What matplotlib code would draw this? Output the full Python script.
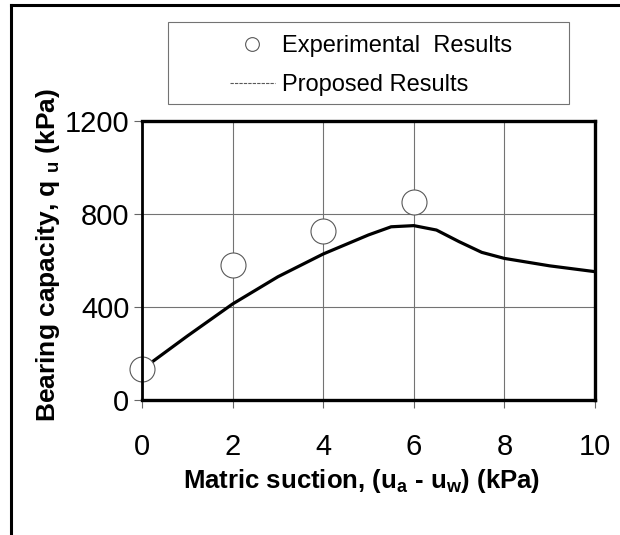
import matplotlib.pyplot as plt
from matplotlib.lines import Line2D
from matplotlib.patches import Rectangle

plt.rcParams['font.family'] = ['Liberation Sans', 'DejaVu Sans']

# experimental points
exp_suction = [0, 2, 4, 6]
exp_capacity = [132, 580, 728, 853]

# proposed (model) curve
model_suction = [0, 1, 2, 3, 4, 5, 5.5, 6, 6.5, 7, 7.5, 8, 9, 10]
model_capacity = [132, 275, 413, 530, 628, 710, 745, 750, 731, 681, 635, 609, 577, 552]

x_ticks = [0, 2, 4, 6, 8, 10]
y_ticks = [0, 400, 800, 1200]

fig = plt.figure(figsize=(6.2, 5.35), dpi=100)
ax = fig.add_axes([142 / 620, 135 / 535, 453 / 620, 279 / 535])

ax.plot(model_suction, model_capacity, color="black", linewidth=2.3, zorder=3)
pts, = ax.plot(exp_suction, exp_capacity, linestyle="none", marker="o", markersize=18,
               markerfacecolor="white", markeredgecolor="0.35", markeredgewidth=0.8,
               clip_on=False, zorder=4)

ax.set_xlim(0, 10)
ax.set_ylim(0, 1200)
ax.set_xticks(x_ticks)
ax.set_yticks(y_ticks)
ax.tick_params(axis="both", direction="out", length=6, width=0.8, color="0.4", labelsize=21)
ax.tick_params(axis="x", pad=18)
ax.tick_params(axis="y", pad=3)

# grid only at the interior ticks
for gx in x_ticks[1:-1]:
    ax.axvline(gx, color="0.45", linewidth=0.8, zorder=1)
for gy in y_ticks[1:-1]:
    ax.axhline(gy, color="0.45", linewidth=0.8, zorder=1)

for s in ax.spines.values():
    s.set_linewidth(2.4)
    s.set_zorder(5)
ax.spines["left"].set_linewidth(2.0)

ax.set_xlabel(r"Matric suction, (u$_\mathregular{a}$ - u$_\mathregular{w}$) (kPa)",
              fontsize=18.5, fontweight="bold")
ax.set_ylabel(r"Bearing capacity, q $_\mathregular{u}$ (kPa)", fontsize=19, fontweight="bold")
ax.xaxis.set_label_coords(0.485, -0.24)
ax.yaxis.set_label_coords(-0.177, 0.52)

# legend with a separate thin grey box
line_proxy = Line2D([], [], color="0.35", linewidth=0.8, linestyle=(0, (3, 1)))
fig.legend([pts, line_proxy], ["Experimental  Results", "Proposed Results"],
           loc="center", bbox_to_anchor=(371 / 620, 1 - 65.5 / 535), frameon=False,
           fontsize=17, markerscale=0.55, handlelength=1.9, handletextpad=0.3,
           labelspacing=0.72)
fig.patches.append(Rectangle((168 / 620, 1 - 104 / 535), 401 / 620, 82 / 535,
                             transform=fig.transFigure, fill=False,
                             edgecolor="0.45", linewidth=0.8))

# scanned page border (left and top)
fig.add_artist(Line2D([11 / 620, 11 / 620], [0, 1 - 5 / 535], color="black", linewidth=2.2,
                      transform=fig.transFigure))
fig.add_artist(Line2D([11 / 620, 1], [1 - 5 / 535, 1 - 5 / 535], color="black", linewidth=2.2,
                      transform=fig.transFigure))

fig.savefig("out.png", dpi=100)
